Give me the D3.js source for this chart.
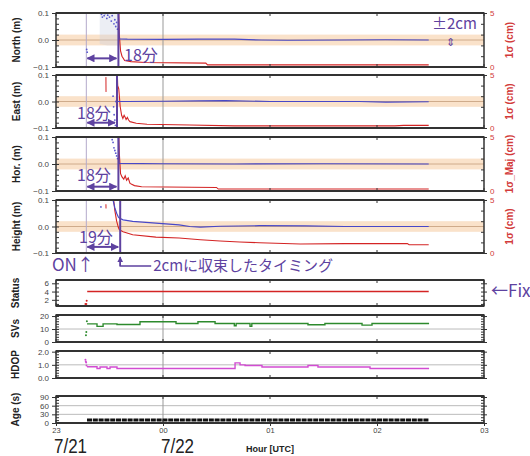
<!DOCTYPE html>
<html>
<head>
<meta charset="utf-8">
<script src="https://cdnjs.cloudflare.com/ajax/libs/d3/7.8.5/d3.min.js"></script>
<style>
body { margin: 0; background: #fff; }
svg { display: block; font-family: "Liberation Sans", Arial, sans-serif; }
.jp { font-family: "Noto Sans CJK JP", sans-serif; }
</style>
</head>
<body>
<div id="chart"></div>
<script>
// all times are minutes after 23:00 UTC on 7/21
var onTime = 17;
var hourLabels = ["23", "00", "01", "02", "03"];
var dayLabels = ["7/21", "7/22"];
var bandHalf = 0.02;

// position offsets (m) after the fix
var northPos = [[35,0.1],[35.4,0.004],[40,0.003],[60,0.002],[80,0.003],[100,0.003],[115,0.0],[130,-0.001],[160,0.0],[185,0.001],[209,0.0]];
var eastPos = [[34.2,0.1],[34.5,0.0],[40,0.0],[60,0.001],[80,0.002],[95,0.003],[120,0.0],[170,0.0],[185,-0.002],[209,-0.001]];
var horPos = [[35,0.1],[35.3,0.002],[60,0.001],[100,0.0],[150,0.001],[209,0.0]];
var heightPos = [[32,0.1],[33,0.07],[34,0.05],[35,0.035],[35.5,0.032],[37.6,0.025],[43,0.019],[56,0.013],[69,0.006],[75,0.0],[81,-0.002],[92,0.001],[114,0.003],[140,0.002],[162,0.0],[209,0.0]];

// 1 sigma (cm)
var northSig = [[35,6],[35.5,3],[36.2,1.5],[37,1.0],[38.5,0.6],[42,0.5],[50,0.42],[84,0.36],[85,0.2],[209,0.2]];
var eastSig = [[34.2,6],[34.6,4],[35.2,3.7],[36,2.0],[36.8,1.2],[37.5,0.9],[38.2,1.2],[38.7,1.05],[39.3,0.8],[40,1.0],[40.7,0.75],[41.5,0.6],[45,0.45],[51,0.35],[75,0.28],[100,0.2],[190,0.2],[195,0.25],[209,0.25]];
var horSig = [[35,6],[35.5,3.5],[36.2,1.6],[37,1.3],[38,1.1],[38.8,1.4],[39.6,1.0],[40.5,1.2],[41.5,0.7],[44,0.5],[48,0.4],[90,0.33],[91,0.18],[209,0.18]];
var heightSig = [[32,5.5],[33,4],[34,3],[35,2.4],[35.5,2.2],[37.6,2.0],[43,1.72],[56,1.5],[69,1.42],[81,1.25],[92,1.13],[103,1.04],[114,0.97],[137,0.85],[162,0.88],[197,0.9],[198,0.78],[209,0.78]];

// scatter before the fix
var northPre = [[17.2,-0.035],[17.5,-0.045],[24.5,0.1],[25.5,0.095],[26,0.085],[27,0.09],[27.5,0.098],[28.5,0.08],[29,0.092],[30,0.085],[31,0.07],[31.5,0.09],[32.5,0.06],[33,0.075],[33.5,0.05],[34,0.065],[34.5,0.04]];
var northCloud = [[24.5,0.1,-0.015],[29,0.1,-0.02],[35,0.1,-0.02]];
var eastPre = [[32,0.02],[32.3,-0.02],[32.6,-0.05],[33,-0.07],[33.3,-0.09],[33.6,0.0],[33.8,-0.1]];
var horPre = [[31.5,0.09],[32,0.08],[32.5,0.06],[33,0.05],[33.5,0.04],[34,0.03],[34.5,0.02]];
var heightPre = [[25.2,0.074]];
var eastSigPre = [[28,4.8],[28.05,3.4]];
var heightSigPre = [[28,4.6],[28.05,4.2]];

// receiver status
var statusPre = [[16.5,1],[17,1],[17.2,1.8]];
var statusVal = [[17.5,4],[209,4]];
var svsPre = [[16.8,5.2],[17,7.8],[17.3,16]];
var svsVal = [[17.4,14],[23,12],[26.4,14],[34.2,13.5],[47.1,15.6],[67.3,14.3],[79.6,15.6],[89.2,14.3],[100,12.5],[101,14.3],[108.8,12],[109.8,14.3],[141.3,13.3],[150.8,14.3],[171.6,13],[177.2,14.3],[209.2,14.3]];
var hdopPre = [[16.5,1.38],[16.7,1.25],[16.9,1.17],[17.1,0.95]];
var hdopVal = [[17.4,0.85],[23,0.72],[24.7,0.83],[28.6,0.72],[30.3,0.83],[34.2,0.72],[100.4,1.15],[103.2,1.0],[106,0.95],[115.5,0.83],[141.3,0.95],[146.9,0.83],[176.1,0.72],[209.2,0.72]];
var ageVal = [[17.4,10],[209.2,10]];

var purple = "#5e42a0", blue = "#4848c8", red = "#d42424";
var t0 = Date.UTC(2021, 6, 21, 23, 0);
function tm(m) { return new Date(t0 + m * 60000); }

var svg = d3.select("#chart").append("svg").attr("width", 530).attr("height", 456);
var x = d3.scaleUtc().domain([tm(0), tm(240)]).range([56, 484]);
var xL = 56, xR = 484;

var defs = svg.append("defs");
defs.append("marker").attr("id", "ah")
    .attr("viewBox", "0 0 10 10").attr("refX", 9).attr("refY", 5)
    .attr("markerWidth", 4).attr("markerHeight", 4)
    .attr("orient", "auto-start-reverse")
    .append("path").attr("d", "M0,0L10,5L0,10z").attr("fill", purple);

var topPanels = [
    { name: "North (m)", rname: "1σ (cm)", y0: 13, y1: 67, pos: northPos, sig: northSig, pre: northPre, sigPre: [], fix: 35, arrowY: -0.068, lab: "18分", labX: 124, labY: 61 },
    { name: "East (m)", rname: "1σ (cm)", y0: 75, y1: 128, pos: eastPos, sig: eastSig, pre: eastPre, sigPre: eastSigPre, fix: 34.2, arrowY: -0.08, lab: "18分", labX: 77, labY: 119 },
    { name: "Hor. (m)", rname: "1σ_Maj (cm)", y0: 137, y1: 191, pos: horPos, sig: horSig, pre: horPre, sigPre: [], fix: 35, arrowY: -0.084, lab: "18分", labX: 77, labY: 181 },
    { name: "Height (m)", rname: "1σ (cm)", y0: 200, y1: 253, pos: heightPos, sig: heightSig, pre: heightPre, sigPre: heightSigPre, fix: 36, arrowY: -0.077, lab: "19分", labX: 79, labY: 243 }
];

var botPanels = [
    { name: "Status", y0: 280, y1: 306, dom: [0.5, 6.8], ticks: [2, 4, 6], fmt: d3.format("d"), minor: [1, 2, 3, 4, 5, 6], grid: [], color: red, pre: statusPre, val: statusVal },
    { name: "SVs", y0: 315, y1: 342, dom: [0, 20.8], ticks: [0, 10, 20], fmt: d3.format("d"), minor: [0, 2, 4, 6, 8, 10, 12, 14, 16, 18, 20], grid: [10], color: "#2d8a2d", pre: svsPre, val: svsVal },
    { name: "HDOP", y0: 351, y1: 378, dom: [0, 2.05], ticks: [0, 1, 2], fmt: d3.format(".1f"), minor: [0, 0.2, 0.4, 0.6, 0.8, 1, 1.2, 1.4, 1.6, 1.8, 2], grid: [1], color: "#d24cd2", pre: hdopPre, val: hdopVal },
    { name: "Age (s)", y0: 396, y1: 423, dom: [0, 93.5], ticks: [0, 30, 60, 90], fmt: d3.format("d"), minor: [0, 10, 20, 30, 40, 50, 60, 70, 80, 90], grid: [30, 60], color: "#111", pre: [], val: ageVal }
];

function frame(g, y0, y1) {
    g.append("line").attr("x1", xL).attr("x2", xR).attr("y1", y0).attr("y2", y0).attr("stroke", "#333").attr("stroke-width", 2);
    g.append("line").attr("x1", xL).attr("x2", xR).attr("y1", y1).attr("y2", y1).attr("stroke", "#333").attr("stroke-width", 2);
    g.append("line").attr("x1", xL).attr("x2", xL).attr("y1", y0).attr("y2", y1).attr("stroke", "#333").attr("stroke-width", 1.5);
    g.append("line").attr("x1", xR).attr("x2", xR).attr("y1", y0).attr("y2", y1).attr("stroke", "#333").attr("stroke-width", 1.5);
    // hour ticks on top and bottom
    x.ticks(d3.utcHour.every(1)).forEach(function(h) {
        g.append("line").attr("x1", x(h)).attr("x2", x(h)).attr("y1", y0 - 1).attr("y2", y0 + 3).attr("stroke", "#333");
        g.append("line").attr("x1", x(h)).attr("x2", x(h)).attr("y1", y1 - 3).attr("y2", y1 + 1).attr("stroke", "#333");
    });
}

function vline(g, xv, y0, y1, col) {
    return g.append("line").attr("x1", xv).attr("x2", xv).attr("y1", y0).attr("y2", y1).attr("stroke", col).attr("stroke-width", 1);
}

function yLabel(text, xp, yp, col) {
    svg.append("text")
        .attr("transform", "translate(" + xp + "," + yp + ") rotate(-90)")
        .attr("text-anchor", "middle")
        .attr("font-size", 10).attr("font-weight", "bold")
        .attr("fill", col)
        .text(text);
}

function tidy(a, col) {
    a.select(".domain").remove();
    a.selectAll("text").attr("font-size", 8).attr("fill", col || "#444");
    a.selectAll("line").attr("stroke", "#333");
}

topPanels.forEach(function(p, i) {
    var y = d3.scaleLinear().domain([-0.1, 0.1]).range([p.y1, p.y0]);
    var ys = d3.scaleLinear().domain([0, 5]).range([p.y1, p.y0]);
    var g = svg.append("g");

    defs.append("clipPath").attr("id", "clipT" + i)
        .append("rect").attr("x", xL).attr("y", p.y0).attr("width", xR - xL).attr("height", p.y1 - p.y0);
    var body = g.append("g").attr("clip-path", "url(#clipT" + i + ")");

    body.append("line").attr("x1", xL).attr("x2", xR).attr("y1", y(0)).attr("y2", y(0)).attr("stroke", "#a89080");
    body.append("rect").attr("x", xL).attr("width", xR - xL)
        .attr("y", y(bandHalf)).attr("height", y(-bandHalf) - y(bandHalf))
        .attr("fill", "#f6c596").attr("opacity", 0.5);

    vline(body, x(tm(onTime)), p.y0, p.y1, "#b4aacb");
    vline(body, x(tm(60)), p.y0, p.y1, "#999");

    if (i === 0) {
        body.append("path").datum(northCloud)
            .attr("fill", "#c9cde0").attr("opacity", 0.35)
            .attr("d", d3.area().x(function(d) { return x(tm(d[0])); })
                .y0(function(d) { return y(d[2]); }).y1(function(d) { return y(d[1]); }));
    }

    body.selectAll(".pre").data(p.pre).enter().append("circle")
        .attr("cx", function(d) { return x(tm(d[0])); })
        .attr("cy", function(d) { return y(d[1]); })
        .attr("r", 0.9).attr("fill", "#5a5ad0");

    var sigLine = d3.line().x(function(d) { return x(tm(d[0])); }).y(function(d) { return ys(d[1]); });
    var posLine = d3.line().x(function(d) { return x(tm(d[0])); }).y(function(d) { return y(d[1]); });

    if (p.sigPre.length) {
        body.append("path").attr("d", sigLine(p.sigPre)).attr("fill", "none").attr("stroke", red).attr("stroke-width", 1);
    }
    body.append("path").attr("d", sigLine(p.sig)).attr("fill", "none").attr("stroke", red).attr("stroke-width", 1.1);
    body.append("path").attr("d", posLine(p.pos)).attr("fill", "none").attr("stroke", blue).attr("stroke-width", 1.2);

    // fix marker and elapsed time arrow
    vline(g, x(tm(p.fix)), p.y0, p.y1, purple).attr("stroke-width", 2);
    g.append("line")
        .attr("x1", x(tm(onTime)) + 1).attr("x2", x(tm(p.fix)) - 2)
        .attr("y1", y(p.arrowY)).attr("y2", y(p.arrowY))
        .attr("stroke", purple).attr("stroke-width", 2)
        .attr("marker-start", "url(#ah)").attr("marker-end", "url(#ah)");
    g.append("text").attr("class", "jp")
        .attr("x", p.labX).attr("y", p.labY)
        .attr("font-size", 16).attr("fill", purple)
        .text(p.lab);

    frame(g, p.y0, p.y1);

    // left axis
    g.append("g").attr("transform", "translate(" + xL + ",0)")
        .call(d3.axisLeft(y).tickValues([-0.1, 0, 0.1]).tickFormat(d3.format(".1f")).tickSize(4))
        .call(function(a) { tidy(a); });
    g.append("g").attr("transform", "translate(" + xL + ",0)")
        .call(d3.axisRight(y).tickValues([-0.08, -0.06, -0.04, -0.02, 0, 0.02, 0.04, 0.06, 0.08]).tickFormat("").tickSize(3))
        .call(function(a) { tidy(a); });

    // right axis (sigma)
    g.append("g").attr("transform", "translate(" + xR + ",0)")
        .call(d3.axisRight(ys).tickValues([0, 5]).tickFormat(d3.format("d")).tickSize(3))
        .call(function(a) { tidy(a, "#d23a3a"); });
    g.append("g").attr("transform", "translate(" + xR + ",0)")
        .call(d3.axisLeft(ys).tickValues([1, 2, 3, 4]).tickFormat("").tickSize(3))
        .call(function(a) { tidy(a); });

    yLabel(p.name, 20, (p.y0 + p.y1) / 2, "#222");
    yLabel(p.rname, 513, (p.y0 + p.y1) / 2, "#d23a3a");
});

botPanels.forEach(function(p, i) {
    var y = d3.scaleLinear().domain(p.dom).range([p.y1, p.y0]);
    var g = svg.append("g");

    defs.append("clipPath").attr("id", "clipB" + i)
        .append("rect").attr("x", xL).attr("y", p.y0).attr("width", xR - xL).attr("height", p.y1 - p.y0);
    var body = g.append("g").attr("clip-path", "url(#clipB" + i + ")");

    p.grid.forEach(function(v) {
        body.append("line").attr("x1", xL).attr("x2", xR).attr("y1", y(v)).attr("y2", y(v)).attr("stroke", "#bbb");
    });
    vline(body, x(tm(60)), p.y0, p.y1, "#999");

    var valLine = d3.line().curve(d3.curveStepAfter)
        .x(function(d) { return x(tm(d[0])); }).y(function(d) { return y(d[1]); });

    body.selectAll(".pre").data(p.pre).enter().append("circle")
        .attr("cx", function(d) { return x(tm(d[0])); })
        .attr("cy", function(d) { return y(d[1]); })
        .attr("r", 1).attr("fill", p.color);

    var path = body.append("path").attr("d", valLine(p.val)).attr("fill", "none")
        .attr("stroke", p.color).attr("stroke-width", 1.4);
    if (p.name === "Age (s)") path.attr("stroke-width", 3).attr("stroke-dasharray", "5,0.8");

    frame(g, p.y0, p.y1);

    g.append("g").attr("transform", "translate(" + xL + ",0)")
        .call(d3.axisLeft(y).tickValues(p.ticks).tickFormat(p.fmt).tickSize(4))
        .call(function(a) { tidy(a); });
    g.append("g").attr("transform", "translate(" + xL + ",0)")
        .call(d3.axisRight(y).tickValues(p.minor).tickFormat("").tickSize(3))
        .call(function(a) { tidy(a); });
    g.append("g").attr("transform", "translate(" + xR + ",0)")
        .call(d3.axisLeft(y).tickValues(p.minor).tickFormat("").tickSize(3))
        .call(function(a) { tidy(a); });
    g.append("g").attr("transform", "translate(" + xR + ",0)")
        .call(d3.axisRight(y).tickValues(p.ticks).tickFormat("").tickSize(3))
        .call(function(a) { tidy(a); });

    yLabel(p.name, 19, (p.y0 + p.y1) / 2, "#222");
});

// time axis under the last panel
svg.append("g").attr("transform", "translate(0,423)")
    .call(d3.axisBottom(x).ticks(d3.utcHour.every(1)).tickFormat(function(d, i) { return hourLabels[i]; }).tickSize(3))
    .call(function(a) { tidy(a); a.selectAll("text").attr("font-size", 7.5).attr("dy", "0.5em"); });

svg.selectAll(".day").data(dayLabels).enter().append("text")
    .attr("x", function(d, i) { return x(tm(i * 60)) - 2; })
    .attr("y", 453)
    .attr("font-size", 20)
    .attr("textLength", 33).attr("lengthAdjust", "spacingAndGlyphs")
    .attr("fill", "#222")
    .text(function(d) { return d; });

svg.append("text").attr("x", x(tm(120))).attr("y", 452)
    .attr("text-anchor", "middle").attr("font-size", 9).attr("font-weight", "bold").attr("fill", "#222")
    .text("Hour [UTC]");

// annotations
svg.append("text").attr("class", "jp").attr("x", 432).attr("y", 29)
    .attr("font-size", 15).attr("fill", purple).text("±2cm");
svg.append("text").attr("class", "jp").attr("x", 450).attr("y", 46)
    .attr("text-anchor", "middle").attr("font-size", 11).attr("fill", purple).text("⇕");

svg.append("text").attr("class", "jp").attr("x", 52).attr("y", 271)
    .attr("font-size", 17).attr("fill", purple).text("ON↑");

var fx = x(tm(36));
svg.append("path")
    .attr("d", "M" + fx + ",266L" + fx + ",257")
    .attr("stroke", purple).attr("stroke-width", 1.5).attr("fill", "none")
    .attr("marker-end", "url(#ah)");
svg.append("path")
    .attr("d", "M" + fx + ",258L" + fx + ",266L" + (fx + 31) + ",266")
    .attr("stroke", purple).attr("stroke-width", 1.5).attr("fill", "none");
svg.append("text").attr("class", "jp").attr("x", fx + 33).attr("y", 271)
    .attr("font-size", 15).attr("fill", purple).text("2cmに収束したタイミング");

svg.append("text").attr("class", "jp").attr("x", 491).attr("y", 297)
    .attr("font-size", 17).attr("fill", purple).text("←Fix");
</script>
</body>
</html>
